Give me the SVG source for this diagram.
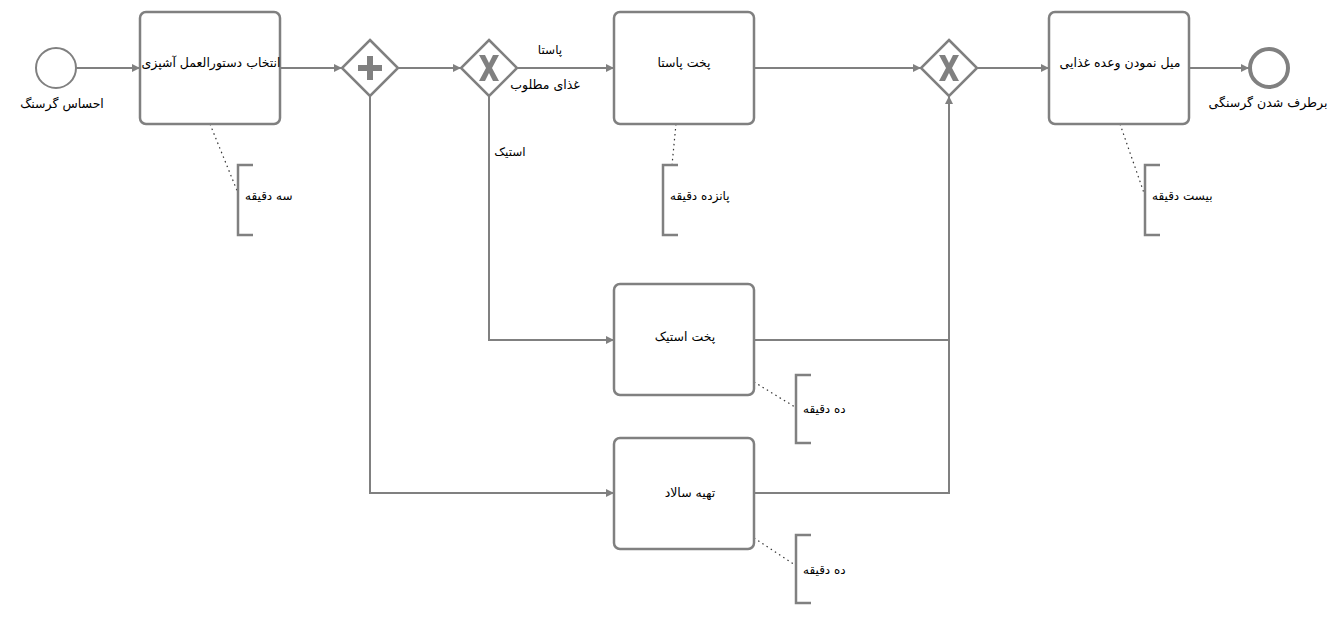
<svg xmlns="http://www.w3.org/2000/svg" width="1333" height="632" viewBox="0 0 1333 632">
<style>
.ev{fill:#fff;stroke:#808080;stroke-width:2}
.end{fill:#fff;stroke:#808080;stroke-width:4}
.task{fill:#fff;stroke:#808080;stroke-width:2.5}
.gw{fill:#fff;stroke:#808080;stroke-width:2.5}
.flow{fill:none;stroke:#808080;stroke-width:2}
.assoc{fill:none;stroke:#333;stroke-width:1.2;stroke-dasharray:1.5 3.5}
.brk{fill:none;stroke:#808080;stroke-width:2.5}
text{font-family:"DejaVu Sans","Noto Sans",sans-serif;font-size:12.5px;fill:#000}
.note{font-size:12px}
.mark{fill:#808080}
</style>
<defs>
<marker id="arr" viewBox="0 0 10 10" refX="10" refY="5" markerWidth="9" markerHeight="8" markerUnits="userSpaceOnUse" orient="auto">
<path d="M0,0 L10,5 L0,10 Z" fill="#808080"/>
</marker>
</defs>
<g id="connectors">
<line class="flow" x1="76" y1="68" x2="140" y2="68" marker-end="url(#arr)"/>
<line class="flow" x1="280" y1="68" x2="342" y2="68" marker-end="url(#arr)"/>
<line class="flow" x1="398" y1="68" x2="461" y2="68" marker-end="url(#arr)"/>
<line class="flow" x1="517" y1="68" x2="614" y2="68" marker-end="url(#arr)"/>
<polyline class="flow" points="489,96 489,340 614,340" marker-end="url(#arr)"/>
<polyline class="flow" points="370,96 370,493 614,493" marker-end="url(#arr)"/>
<line class="flow" x1="754" y1="68" x2="921" y2="68" marker-end="url(#arr)"/>
<polyline class="flow" points="754,340 949,340 949,96" marker-end="url(#arr)"/>
<polyline class="flow" points="754,493 949,493 949,340"/>
<line class="flow" x1="977" y1="68" x2="1049" y2="68" marker-end="url(#arr)"/>
<line class="flow" x1="1189" y1="68" x2="1249" y2="68" marker-end="url(#arr)"/>
<line class="assoc" x1="210" y1="124" x2="238" y2="193"/>
<line class="assoc" x1="676" y1="124" x2="672" y2="165"/>
<line class="assoc" x1="1120" y1="124" x2="1144" y2="193"/>
<line class="assoc" x1="754" y1="382" x2="795" y2="407"/>
<line class="assoc" x1="754" y1="538" x2="795" y2="565"/>
<text class="note" x="550" y="54" text-anchor="middle">پاستا</text>
<text class="note" x="510" y="156" text-anchor="middle">استیک</text>
</g>
<g id="start">
<circle class="ev" cx="56" cy="68" r="20"/>
<text x="62" y="108" text-anchor="middle">احساس گرسنگ</text>
</g>
<g id="task-recipe">
<rect class="task" x="140" y="12" width="140" height="112" rx="6"/>
<text x="211" y="67" text-anchor="middle">انتخاب دستورالعمل آشپزی</text>
</g>
<g id="gw-parallel">
<polygon class="gw" points="370,40 398,68 370,96 342,68"/>
<path class="mark" d="M367,56 h6 v9 h9 v6 h-9 v9 h-6 v-9 h-9 v-6 h9 Z"/>
</g>
<g id="gw-choice">
<polygon class="gw" points="489,40 517,68 489,96 461,68"/>
<path class="mark" d="M479,55 h6 l4,8 l4,-8 h6 l-7,13 l7,13 h-6 l-4,-8 l-4,8 h-6 l7,-13 Z"/>
<text x="545" y="89" text-anchor="middle">غذای مطلوب</text>
</g>
<g id="task-pasta">
<rect class="task" x="614" y="12" width="140" height="112" rx="6"/>
<text x="684" y="67" text-anchor="middle">پخت پاستا</text>
</g>
<g id="task-steak">
<rect class="task" x="614" y="284" width="140" height="111" rx="6"/>
<text x="685" y="341" text-anchor="middle">پخت استیک</text>
</g>
<g id="task-salad">
<rect class="task" x="614" y="438" width="140" height="111" rx="6"/>
<text x="690" y="497" text-anchor="middle">تهیه سالاد</text>
</g>
<g id="gw-merge">
<polygon class="gw" points="949,40 977,68 949,96 921,68"/>
<path class="mark" d="M939,55 h6 l4,8 l4,-8 h6 l-7,13 l7,13 h-6 l-4,-8 l-4,8 h-6 l7,-13 Z"/>
</g>
<g id="task-eat">
<rect class="task" x="1049" y="12" width="140" height="112" rx="6"/>
<text x="1120" y="67" text-anchor="middle">میل نمودن وعده غذایی</text>
</g>
<g id="end">
<circle class="end" cx="1269" cy="68" r="19"/>
<text x="1268" y="107" text-anchor="middle">برطرف شدن گرسنگی</text>
</g>
<g id="note-recipe">
<path class="brk" d="M253,165 H238 V235 H253"/>
<text class="note" x="245" y="200" text-anchor="start">سه دقیقه</text>
</g>
<g id="note-pasta">
<path class="brk" d="M678,165 H663 V235 H678"/>
<text class="note" x="670" y="200" text-anchor="start">پانزده دقیقه</text>
</g>
<g id="note-eat">
<path class="brk" d="M1160,165 H1145 V235 H1160"/>
<text class="note" x="1152" y="200" text-anchor="start">بیست دقیقه</text>
</g>
<g id="note-steak">
<path class="brk" d="M811,375 H796 V443 H811"/>
<text class="note" x="803" y="413" text-anchor="start">ده دقیقه</text>
</g>
<g id="note-salad">
<path class="brk" d="M811,535 H796 V603 H811"/>
<text class="note" x="803" y="574" text-anchor="start">ده دقیقه</text>
</g>
</svg>
